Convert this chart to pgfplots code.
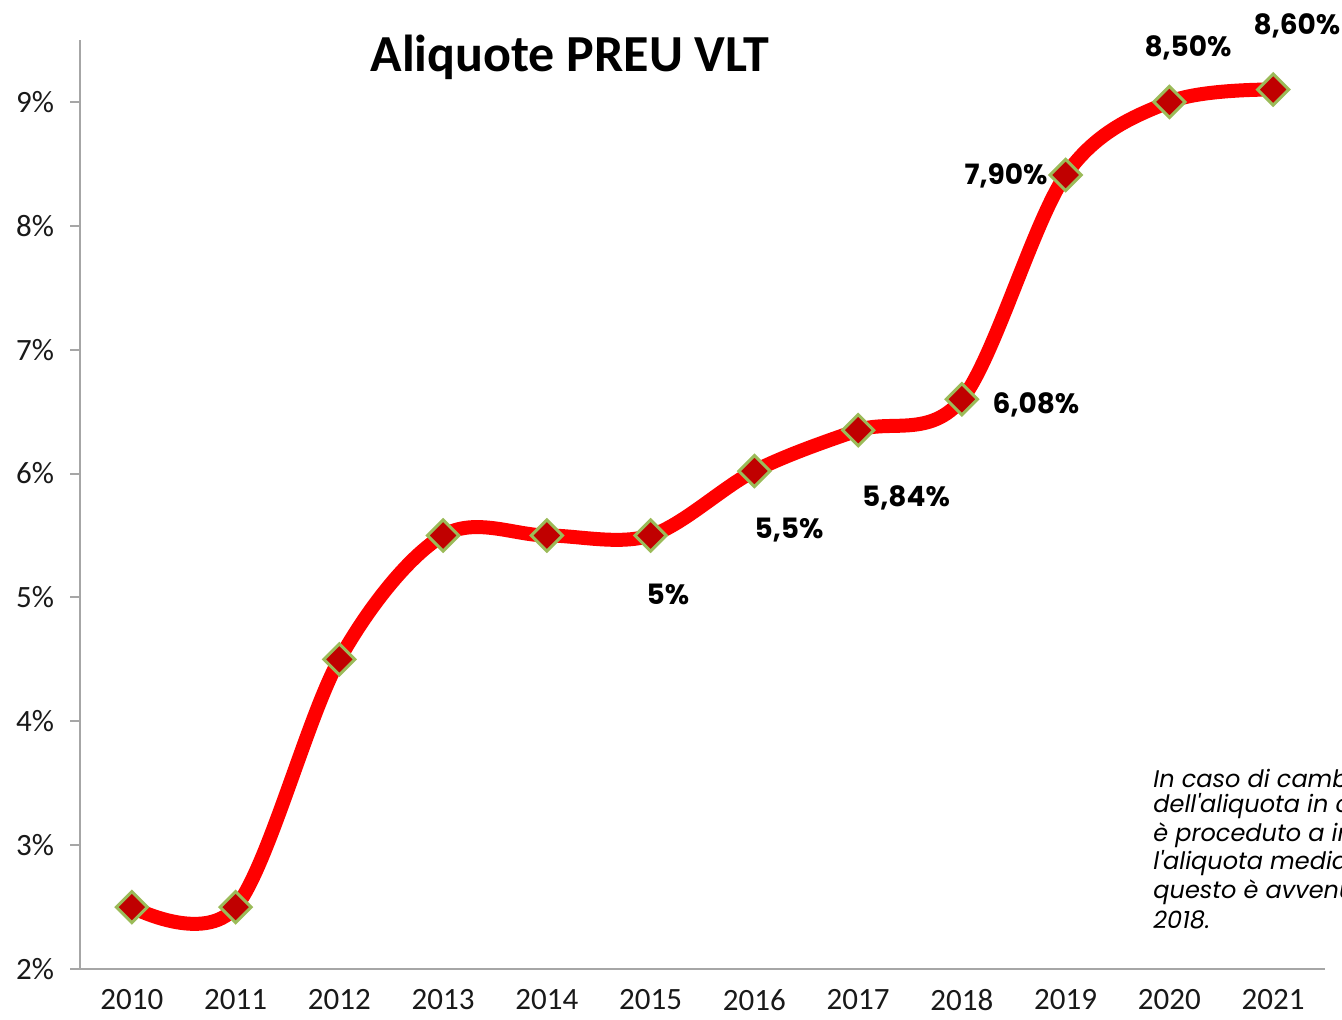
\documentclass[border=0pt]{standalone}
\usepackage{pgfplots}
\pgfplotsset{compat=1.18}
\usepackage{fontspec}
\setmainfont{Carlito}
\newfontfamily\labfont{Poppins}
\definecolor{axgray}{HTML}{A6A6A6}
\definecolor{markred}{HTML}{C00000}
\definecolor{markedge}{HTML}{9BBB59}
\begin{document}
\begin{tikzpicture}
\useasboundingbox (0pt,0pt) rectangle (671pt,509.5pt);
\begin{axis}[
  at={(40pt,25pt)}, anchor=south west,
  scale only axis, width=622.5pt, height=464.5pt,
  xmin=-0.5, xmax=11.5, ymin=2, ymax=9.5,
  axis x line*=bottom, axis y line*=left,
  axis line style={axgray, line width=1pt},
  xtick={0,...,11},
  xticklabels={2010,2011,2012,2013,2014,2015,2016,2017,2018,2019,2020,2021},
  xtick style={draw=none},
  extra x ticks={-0.5,0.5,...,11.5},
  extra x tick labels={},
  extra x tick style={tick align=outside, major tick length=4pt, tick style={axgray, line width=1pt}},
  ytick={2,...,9},
  yticklabels={2\%,3\%,4\%,5\%,6\%,7\%,8\%,9\%},
  ytick style={axgray, line width=1pt},
  tick align=outside, major tick length=5pt,
  ticklabel style={font=\fontsize{15.5}{18}\selectfont, text=black!90},
  xticklabel style={yshift=-4pt, inner sep=1pt},
  yticklabel style={xshift=-4.5pt},
  clip=false,
]
\addplot[red, line width=7pt, smooth, tension=0.55,
  mark=square*, mark size=5.5pt,
  mark options={rotate=45, fill=markred, draw=markedge, line width=1.5pt, solid}]
coordinates {
(0,2.5) (1,2.5) (2,4.5) (3,5.5) (4,5.5) (5,5.5) (6,6.02) (7,6.35) (8,6.6) (9,8.41) (10,9.0) (11,9.1)
};
\end{axis}
\node[font=\fontsize{26}{30}\selectfont\bfseries] at (285pt,481pt) {Aliquote PREU VLT};
\begin{scope}[every node/.style={font=\labfont\fontsize{14}{16}\selectfont\bfseries, inner sep=0pt}]
\node at (334pt,212.5pt) {5\%};
\node at (394.5pt,244.5pt) {5,5\%};
\node at (453pt,260.5pt) {5,84\%};
\node at (518pt,307pt) {6,08\%};
\node at (503pt,421.5pt) {7,90\%};
\node at (594pt,485.5pt) {8,50\%};
\node at (648.5pt,496.5pt) {8,60\%};
\end{scope}
\begin{scope}[every node/.style={font=\labfont\fontsize{12}{14}\selectfont\itshape, anchor=west, inner sep=0pt}]
\node at (576.5pt,120.5pt) {In caso di cambio};
\node at (576.5pt,106.5pt) {dell'aliquota in corso d'anno si};
\node at (576.5pt,92pt) {è proceduto a indicare};
\node at (576.5pt,78pt) {l'aliquota media, come};
\node at (576.5pt,63.5pt) {questo è avvenuto nel};
\node at (576.5pt,49.5pt) {2018.};
\end{scope}
\end{tikzpicture}
\end{document}
